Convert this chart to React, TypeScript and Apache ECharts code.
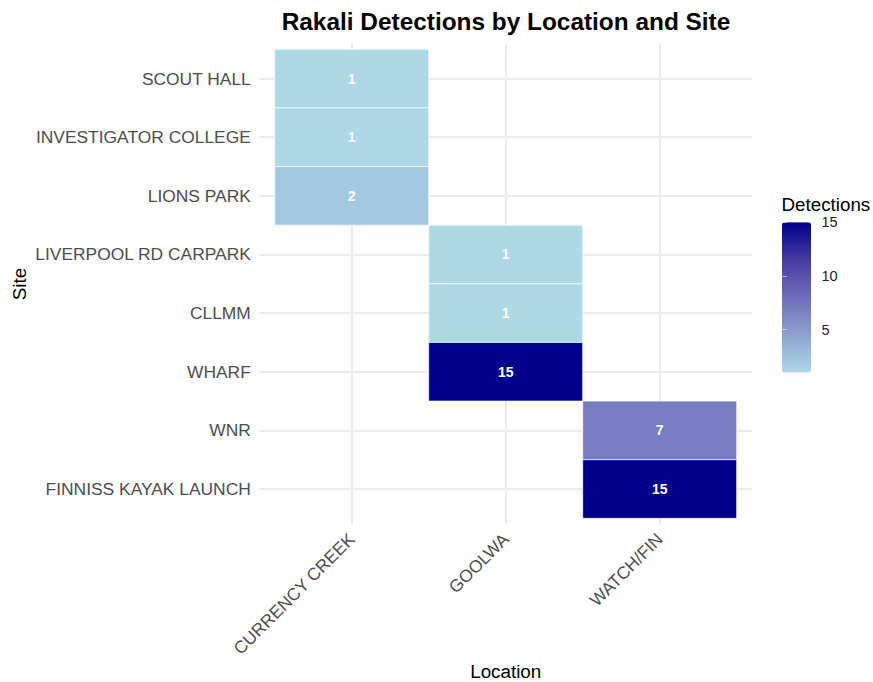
import React, { useEffect, useRef } from 'react';
import * as echarts from 'echarts';

const locations = ['CURRENCY CREEK', 'GOOLWA', 'WATCH/FIN'];
// bottom to top
const sites = [
  'FINNISS KAYAK LAUNCH',
  'WNR',
  'WHARF',
  'CLLMM',
  'LIVERPOOL RD CARPARK',
  'LIONS PARK',
  'INVESTIGATOR COLLEGE',
  'SCOUT HALL',
];
const recordLocation = ['CURRENCY CREEK', 'CURRENCY CREEK', 'CURRENCY CREEK', 'GOOLWA', 'GOOLWA', 'GOOLWA', 'WATCH/FIN', 'WATCH/FIN'];
const recordSite = ['SCOUT HALL', 'INVESTIGATOR COLLEGE', 'LIONS PARK', 'LIVERPOOL RD CARPARK', 'CLLMM', 'WHARF', 'WNR', 'FINNISS KAYAK LAUNCH'];
const recordDetections = [1, 1, 2, 1, 1, 15, 7, 15];
const legendTicks = [5, 10, 15];
const fillMin = 1;
const fillMax = 15;
const fillStops = ['#ADD8E6', '#8FA1D0', '#6F6DB9', '#483BA2', '#00008B'];

const FONT = '"Liberation Sans", Arial, sans-serif';

export default function App() {
  const ref = useRef<HTMLDivElement>(null);
  useEffect(() => {
    if (!ref.current) return;
    const chart = echarts.init(ref.current, null, { renderer: 'svg' });
    const data = recordDetections.map((v, i) => [
      locations.indexOf(recordLocation[i]) + 1,
      sites.indexOf(recordSite[i]) + 1,
      v,
    ]);
    const xVals = locations.map((_, i) => i + 1);
    const yVals = sites.map((_, i) => i + 1);
    const option: any = {
      animation: false,
      textStyle: { fontFamily: FONT },
      grid: [
        { left: 259.3, top: 43.4, width: 492.8, height: 480.8 },
        { left: 782, top: 222.3, width: 29, height: 150.3 },
      ],
      xAxis: [
        {
          type: 'value',
          gridIndex: 0,
          min: 0.4,
          max: 3.6,
          axisLine: { show: false },
          axisTick: { show: false, customValues: xVals },
          splitLine: { show: true, lineStyle: { color: '#EBEBEB', width: 2 } },
          axisLabel: {
            customValues: xVals,
            rotate: 45,
            margin: 12,
            padding: [62, 0, 0, 0],
            fontSize: 17.4,
            color: '#4D4D4D',
            fontFamily: FONT,
            formatter: (v: number) => locations[Math.round(v) - 1] ?? '',
          },
        },
        { type: 'value', gridIndex: 1, show: false, min: 0, max: 1 },
      ],
      yAxis: [
        {
          type: 'value',
          gridIndex: 0,
          min: 0.4,
          max: 8.6,
          axisLine: { show: false },
          axisTick: { show: false, customValues: yVals },
          splitLine: { show: true, lineStyle: { color: '#EBEBEB', width: 2 } },
          axisLabel: {
            customValues: yVals,
            margin: 8.5,
            fontSize: 17.4,
            color: '#4D4D4D',
            fontFamily: FONT,
            formatter: (v: number) => sites[Math.round(v) - 1] ?? '',
          },
        },
        {
          type: 'value',
          gridIndex: 1,
          position: 'right',
          min: fillMin,
          max: fillMax,
          z: 10,
          axisLine: { show: false },
          splitLine: { show: false },
          axisTick: {
            show: true,
            inside: true,
            length: 5,
            customValues: legendTicks,
            lineStyle: { color: 'rgba(255,255,255,0.55)', width: 1 },
          },
          axisLabel: { customValues: legendTicks, margin: 10.5, fontSize: 14.5, color: '#222', fontFamily: FONT },
        },
        {
          type: 'value',
          gridIndex: 1,
          position: 'left',
          min: fillMin,
          max: fillMax,
          z: 10,
          axisLine: { show: false },
          splitLine: { show: false },
          axisTick: {
            show: true,
            inside: true,
            length: 5,
            customValues: legendTicks,
            lineStyle: { color: 'rgba(255,255,255,0.55)', width: 1 },
          },
          axisLabel: { show: false },
        },
      ],
      visualMap: {
        type: 'continuous',
        min: fillMin,
        max: fillMax,
        dimension: 2,
        seriesIndex: 0,
        inRange: { color: fillStops },
        show: true,
        calculable: false,
        hoverLink: false,
        orient: 'vertical',
        left: 782,
        top: 222.3,
        itemWidth: 29,
        itemHeight: 150.3,
        padding: 0,
      },
      series: [
        {
          type: 'custom',
          xAxisIndex: 0,
          yAxisIndex: 0,
          encode: { x: 0, y: 1 },
          data,
          renderItem: (params: any, api: any) => {
            const x = api.value(0);
            const y = api.value(1);
            const p0 = api.coord([x - 0.5, y + 0.5]);
            const p1 = api.coord([x + 0.5, y - 0.5]);
            const c = api.coord([x, y]);
            return {
              type: 'group',
              children: [
                {
                  type: 'rect',
                  shape: { x: p0[0], y: p0[1], width: p1[0] - p0[0], height: p1[1] - p0[1] },
                  style: { fill: api.visual('color'), stroke: 'rgba(255,255,255,0.7)', lineWidth: 1 },
                },
                {
                  type: 'text',
                  x: c[0],
                  y: c[1],
                  style: {
                    text: String(api.value(2)),
                    fill: '#ffffff',
                    font: `bold 14px ${FONT}`,
                    align: 'center',
                    verticalAlign: 'middle',
                  },
                },
              ],
            };
          },
        },
      ],
      graphic: [
        {
          type: 'text',
          x: 506,
          y: 21,
          style: {
            text: 'Rakali Detections by Location and Site',
            font: `bold 24.4px ${FONT}`,
            fill: '#000',
            align: 'center',
            verticalAlign: 'middle',
          },
        },
        {
          type: 'text',
          x: 505.7,
          y: 671.5,
          style: { text: 'Location', font: `18.8px ${FONT}`, fill: '#000', align: 'center', verticalAlign: 'middle' },
        },
        {
          type: 'text',
          x: 19.5,
          y: 284,
          rotation: Math.PI / 2,
          style: { text: 'Site', font: `18.8px ${FONT}`, fill: '#000', align: 'center', verticalAlign: 'middle' },
        },
        {
          type: 'text',
          x: 781.5,
          y: 204.5,
          style: {
            text: 'Detections',
            font: `18.8px ${FONT}`,
            lineHeight: 15,
            fill: '#000',
            align: 'left',
            verticalAlign: 'middle',
          },
        },
      ],
    };
    chart.setOption(option);
    return () => chart.dispose();
  }, []);
  return (
    <div
      ref={ref}
      style={{ position: 'fixed', left: 0, top: 0, width: 873, height: 682, background: '#fff' }}
    />
  );
}
